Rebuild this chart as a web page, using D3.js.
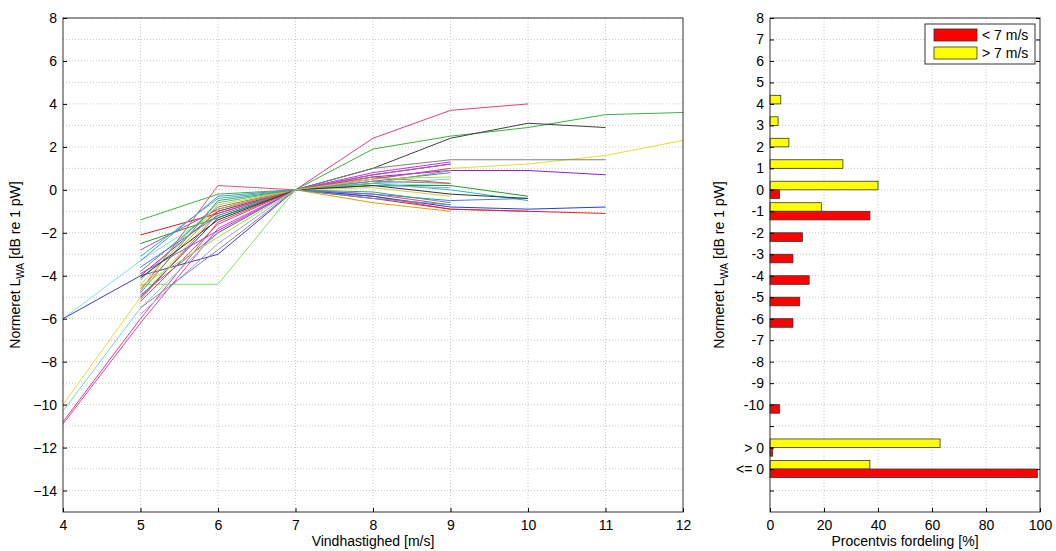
<!DOCTYPE html><html><head><meta charset="utf-8">
<script src="https://cdn.jsdelivr.net/npm/d3@7"></script>
<style>body{margin:0;background:#fff}text{font-family:"Liberation Sans",Arial,sans-serif;}</style></head><body>
<svg id="c" width="1056" height="551"></svg>
<script>
const windSpeeds=[4,5,6,7,8,9,10,11,12];
// each series: y values at windSpeeds (null = no data)
const seriesValues=[
 [-10.8,-6.0,-1.5,0,2.4,3.7,4.0,null,null],
 [null,-1.4,-0.2,0,1.9,2.5,2.9,3.5,3.6],
 [null,-4.4,-4.4,0,0.5,null,null,null,null],
 [-10.0,-5.0,-1.0,0,0.5,1.0,1.2,1.6,2.3],
 [-6.0,-3.3,-1.0,0,0.3,0.2,null,null,null],
 [-6.0,-4.0,-3.0,0,0.7,1.2,null,null,null],
 [null,-4.7,0.2,0,-0.3,-0.9,-1.0,null,null],
 [null,-2.1,-1.1,0,-0.4,-0.9,-1.0,-1.1,null],
 [null,null,null,0,1.0,2.4,3.1,2.9,null],
 [null,-3.8,-0.8,0,1.0,1.4,1.4,1.4,null],
 [null,-4.0,-1.0,0,0.6,0.9,0.9,0.7,null],
 [null,-5.0,-1.3,0,-0.3,-0.8,-0.9,-0.8,null],
 [-10.9,-6.2,-1.8,0,0.7,1.2,null,null,null],
 [-10.3,-5.5,-2.0,0,0.3,0.5,null,null,null],
 [null,-2.5,-1.3,0,0.2,0.2,-0.3,null,null],
 [null,-2.8,-0.9,0,0.5,1.0,null,null,null],
 [null,-3.1,-0.4,0,0.3,0.0,-0.5,null,null],
 [null,-4.6,-0.9,0,-0.6,-1.0,null,null,null],
 [null,-5.2,-1.6,0,-0.2,-0.7,null,null,null],
 [null,-4.9,-2.0,0,0.4,0.8,null,null,null],
 [null,-5.8,-2.5,0,0.2,0.1,null,null,null],
 [null,-4.2,-0.6,0,0.3,0.9,null,null,null],
 [null,-3.6,-1.2,0,-0.2,-0.5,-0.4,null,null],
 [null,-4.4,-0.7,0,0.1,-0.3,null,null,null],
 [null,-5.5,-2.8,0,0.4,0.3,null,null,null],
 [null,-3.9,-1.9,0,0.8,1.3,null,null,null],
 [null,-4.8,-0.5,0,-0.1,-0.6,null,null,null],
 [null,-4.1,-1.4,0,0.2,-0.2,-0.4,null,null],
 [null,-5.1,-1.1,0,0.6,0.3,null,null,null],
 [null,-3.3,-0.3,0,-0.4,-0.7,null,null,null],
 [null,-4.5,-2.2,0,0.5,0.6,null,null,null]
];
const seriesColors=["#e0407a","#3cb043","#80e060","#e0e030","#80e0e0","#4040c0","#e05080","#e02020","#404040","#808080","#9020d0","#2040e0","#e040c0","#80d0d0","#20a020","#c040c0","#20c0c0","#e0a000","#ff4060","#8060c0","#a0a0e0","#60c060","#4080e0","#d0d040","#9080a0","#b040e0","#40a080","#303030","#c06060","#6090c0","#a0e040"];
const levels=[4,3,2,1,0,-1,-2,-3,-4,-5,-6,-10,-12,-13];
const pctAbove7=[4,3,7,27,40,19,0,0,0,0,0,0,63,37];
const pctBelow7=[0,0,0,0,3.5,37,12,8.5,14.5,11,8.5,3.5,1,99];
const rightTickLabels={"-11":"","-12":"> 0","-13":"<= 0","-14":""};

const svg=d3.select("#c");
const L={l:63,r:683,t:18,b:512}, R={l:770,r:1040,t:18,b:512};
const x1=d3.scaleLinear().domain([4,12]).range([L.l,L.r]);
const y=d3.scaleLinear().domain([-15,8]).range([L.b,L.t]);
const x2=d3.scaleLinear().domain([0,100]).range([R.l,R.r]);
const yt=d3.range(-14,9);

function grid(g,xs,xticks,x0,x1p){
  g.selectAll(".gx").data(xticks).join("line").attr("x1",d=>xs(d)).attr("x2",d=>xs(d)).attr("y1",L.t).attr("y2",L.b).attr("stroke","#c8c8c8").attr("stroke-dasharray","1,2");
  g.selectAll(".gy").data(yt).join("line").attr("class","gy").attr("x1",x0).attr("x2",x1p).attr("y1",d=>y(d)).attr("y2",d=>y(d)).attr("stroke","#c8c8c8").attr("stroke-dasharray","1,2");
}
const gL=svg.append("g");grid(gL,x1,d3.range(5,12),L.l,L.r);
const gR=svg.append("g");grid(gR,x2,[20,40,60,80],R.l,R.r);

const line=d3.line().defined(d=>d[1]!=null).x(d=>x1(d[0])).y(d=>y(d[1]));
seriesValues.forEach((s,i)=>{
  svg.append("path").attr("d",line(s.map((v,j)=>[windSpeeds[j],v]))).attr("fill","none").attr("stroke",seriesColors[i%seriesColors.length]).attr("stroke-width",1);
});

// bars
const bh=y(0)-y(0.4);
levels.forEach((lv,i)=>{
  if(pctAbove7[i]>0) svg.append("rect").attr("x",x2(0)).attr("y",y(lv)-bh).attr("width",x2(pctAbove7[i])-x2(0)).attr("height",bh).attr("fill","#ffff00").attr("stroke","#333").attr("stroke-width",0.8);
  if(pctBelow7[i]>0) svg.append("rect").attr("x",x2(0)).attr("y",y(lv)).attr("width",x2(pctBelow7[i])-x2(0)).attr("height",bh).attr("fill","#ff0000").attr("stroke","#333").attr("stroke-width",0.8);
});

// axes
function frame(P){svg.append("rect").attr("x",P.l).attr("y",P.t).attr("width",P.r-P.l).attr("height",P.b-P.t).attr("fill","none").attr("stroke","#333");}
frame(L);frame(R);
const fs="14px";
svg.append("g").attr("transform",`translate(0,${L.b})`).call(d3.axisBottom(x1).ticks(8).tickSize(-4).tickPadding(8)).call(g=>{g.select(".domain").remove();g.selectAll("text").style("font-size",fs).attr("fill","#000");});
svg.append("g").attr("transform",`translate(${L.l},0)`).call(d3.axisLeft(y).tickValues(d3.range(-14,9,2)).tickSize(-4).tickPadding(6)).call(g=>{g.select(".domain").remove();g.selectAll("text").style("font-size",fs).attr("fill","#000");});
svg.append("g").attr("transform",`translate(0,${R.b})`).call(d3.axisBottom(x2).tickValues([0,20,40,60,80,100]).tickSize(-4).tickPadding(8)).call(g=>{g.select(".domain").remove();g.selectAll("text").style("font-size",fs).attr("fill","#000");});
svg.append("g").attr("transform",`translate(${R.l},0)`).call(d3.axisLeft(y).tickValues(yt).tickSize(-4).tickPadding(6).tickFormat(d=>(d in rightTickLabels)?rightTickLabels[d]:d)).call(g=>{g.select(".domain").remove();g.selectAll("text").style("font-size",fs).attr("fill","#000");});
svg.append("g").attr("transform",`translate(${R.r},0)`).call(d3.axisRight(y).tickValues(yt).tickSize(-4).tickFormat("")).call(g=>g.select(".domain").remove());

svg.append("text").attr("x",(L.l+L.r)/2).attr("y",546).attr("text-anchor","middle").style("font-size","14px").text("Vindhastighed [m/s]");
svg.append("text").attr("x",(R.l+R.r)/2).attr("y",546).attr("text-anchor","middle").style("font-size","14px").text("Procentvis fordeling [%]");
function ylab(xp){const t=svg.append("text").attr("transform",`translate(${xp},${(L.t+L.b)/2}) rotate(-90)`).attr("text-anchor","middle").style("font-size","14px");
 t.append("tspan").text("Normeret L");t.append("tspan").attr("dy",4).style("font-size","10px").text("WA");t.append("tspan").attr("dy",-4).text(" [dB re 1 pW]");}
ylab(20);ylab(724);

// legend
const lg=svg.append("g");
lg.append("rect").attr("x",925).attr("y",24).attr("width",110).attr("height",40).attr("fill","#fff").attr("stroke","#333");
[["< 7 m/s","#ff0000"],["> 7 m/s","#ffff00"]].forEach((d,i)=>{
 lg.append("rect").attr("x",934).attr("y",29+i*18).attr("width",43).attr("height",12).attr("fill",d[1]).attr("stroke","#333").attr("stroke-width",0.8);
 lg.append("text").attr("x",982).attr("y",40+i*18).style("font-size","14px").text(d[0]);
});
</script></body></html>
